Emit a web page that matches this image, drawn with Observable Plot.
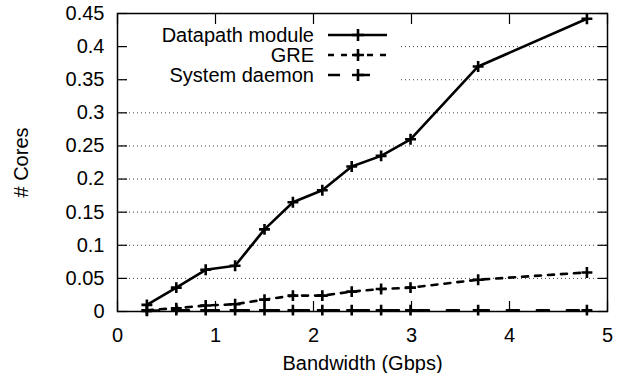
<!DOCTYPE html>
<html>
<head>
<meta charset="utf-8">
<script src="https://cdn.jsdelivr.net/npm/d3@7"></script>
<script src="https://cdn.jsdelivr.net/npm/@observablehq/plot@0.6"></script>
<style>
  html, body { margin: 0; padding: 0; background: #fff; }
  #wrap { position: relative; width: 618px; height: 373px; font-family: "Liberation Sans", Arial, Helvetica, sans-serif; }
  #legend { position: absolute; left: 128px; top: 24px; width: 272px; height: 66px; background: #fff; }
  #legend .row { position: absolute; left: 0; height: 20px; width: 272px; }
  #legend .lab { position: absolute; right: 86px; top: 0; line-height: 20px; font-size: 20px; color: #000; white-space: nowrap; }
  #legend svg { position: absolute; left: 200px; top: 0; }
</style>
</head>
<body>
<div id="wrap"></div>
<script>
// Data
const bandwidth = [0.3, 0.6, 0.9, 1.2, 1.5, 1.79, 2.09, 2.39, 2.69, 2.99, 3.68, 4.79];
const datapath  = [0.010, 0.036, 0.063, 0.069, 0.124, 0.165, 0.183, 0.219, 0.235, 0.260, 0.370, 0.442];
const gre       = [0.002, 0.005, 0.009, 0.011, 0.018, 0.024, 0.024, 0.030, 0.034, 0.036, 0.048, 0.059];
const daemon    = [0.001, 0.002, 0.002, 0.002, 0.002, 0.002, 0.002, 0.002, 0.002, 0.002, 0.002, 0.002];
const seriesNames = ["Datapath module", "GRE", "System daemon"];
const seriesDash = ["none", "6,7", "12,18"];
const xTicks = [0, 1, 2, 3, 4, 5];
const yTicks = [0, 0.05, 0.1, 0.15, 0.2, 0.25, 0.3, 0.35, 0.4, 0.45];
const xLabel = "Bandwidth (Gbps)";
const yLabel = "# Cores";

const valuesBySeries = [datapath, gre, daemon];
const rows = [];
seriesNames.forEach((name, i) => {
  bandwidth.forEach((b, j) => rows.push({series: name, x: b, y: valuesBySeries[i][j]}));
});

const lineMarks = [];
seriesNames.forEach((name, i) => {
  const d = rows.filter(r => r.series === name);
  lineMarks.push(Plot.line(d, {x: "x", y: "y", stroke: "#000", strokeWidth: 2.6,
    strokeDasharray: seriesDash[i] === "none" ? null : seriesDash[i], strokeLinejoin: "miter"}));
  lineMarks.push(Plot.dot(d, {x: "x", y: "y", symbol: "plus", r: 3.6, stroke: "#000", strokeWidth: 2.6, fill: "none"}));
});

const chart = Plot.plot({
  width: 618,
  height: 373,
  marginLeft: 117,
  marginRight: 11,
  marginTop: 13,
  marginBottom: 62,
  style: {fontFamily: '"Liberation Sans", Arial, Helvetica, sans-serif', fontSize: "20px", color: "#000", background: "#fff"},
  x: {domain: [0, 5]},
  y: {domain: [0, 0.45]},
  marks: [
    Plot.gridY(yTicks.filter(t => t > 0 && t < 0.45), {stroke: "#000", strokeOpacity: 0.75, strokeDasharray: "1,3", strokeWidth: 1}),
    ...lineMarks,
    Plot.axisY(yTicks, {anchor: "left", tickSize: -10, tickPadding: 23, tickFormat: d => String(d), label: null, strokeWidth: 1.2, fontSize: 20}),
    Plot.axisY(yTicks, {anchor: "right", tickSize: -10, tickFormat: () => "", label: null, strokeWidth: 1.2}),
    Plot.axisX(xTicks, {anchor: "bottom", tickSize: -10, tickPadding: 26, tickFormat: d => String(d), label: null, strokeWidth: 1.2, fontSize: 20}),
    Plot.axisX(xTicks, {anchor: "top", tickSize: -10, tickFormat: () => "", label: null, strokeWidth: 1.2}),
    Plot.frame({stroke: "#000", strokeWidth: 1.5}),
    Plot.text([yLabel], {frameAnchor: "left", dx: -96, rotate: -90, fontSize: 20, textAnchor: "middle", lineAnchor: "middle"}),
    Plot.text([xLabel], {frameAnchor: "bottom", dy: 52, fontSize: 20, textAnchor: "middle", lineAnchor: "middle"})
  ]
});

const wrap = document.getElementById("wrap");
wrap.appendChild(chart);

// Legend (key) drawn as an overlay box, like gnuplot's opaque key
const legend = document.createElement("div");
legend.id = "legend";
seriesNames.forEach((name, i) => {
  const row = document.createElement("div");
  row.className = "row";
  row.style.top = (i * 20 + 1) + "px";
  const lab = document.createElement("span");
  lab.className = "lab";
  lab.textContent = name;
  row.appendChild(lab);
  const svg = d3.create("svg").attr("width", 60).attr("height", 20);
  svg.append("line").attr("x1", 0).attr("x2", 59).attr("y1", 10).attr("y2", 10)
    .attr("stroke", "#000").attr("stroke-width", 2.6)
    .attr("stroke-dasharray", seriesDash[i] === "none" ? null : seriesDash[i]);
  svg.append("path").attr("d", "M24,10h12M30,4v12").attr("stroke", "#000").attr("stroke-width", 2.6);
  row.appendChild(svg.node());
  legend.appendChild(row);
});
wrap.appendChild(legend);
</script>
</body>
</html>
